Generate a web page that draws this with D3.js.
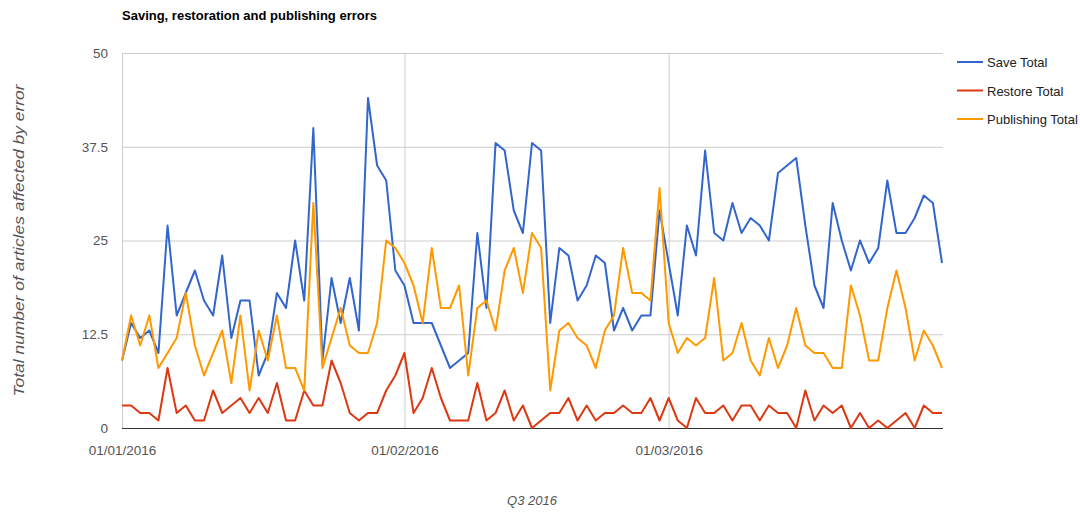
<!DOCTYPE html>
<html>
<head>
<meta charset="utf-8">
<script src="https://cdn.jsdelivr.net/npm/d3@7/dist/d3.min.js"></script>
<style>
  html, body { margin: 0; padding: 0; background: #fff; }
  svg { display: block; font-family: "Liberation Sans", Arial, sans-serif; }
</style>
</head>
<body>
<svg id="chart" width="1080" height="512"></svg>
<script>
// ---- data ----
const startDate = "2016-01-01";
const endDate = "2016-03-31";
const seriesNames = ["Save Total", "Restore Total", "Publishing Total"];
const seriesColors = ["#3366cc", "#dc3912", "#ff9900"];

const saveTotal = [9, 14, 12, 13, 10, 27, 15, 18, 21, 17, 15, 23, 12, 17, 17, 7, 10, 18, 16, 25,
  17, 40, 9, 20, 14, 20, 13, 44, 35, 33, 21, 19, 14, 14, 14, 11, 8, 9, 10, 26,
  16, 38, 37, 29, 26, 38, 37, 14, 24, 23, 17, 19, 23, 22, 13, 16, 13, 15, 15, 29,
  22, 15, 27, 23, 37, 26, 25, 30, 26, 28, 27, 25, 34, 35, 36, 27, 19, 16, 30, 25,
  21, 25, 22, 24, 33, 26, 26, 28, 31, 30, 22];
const restoreTotal = [3, 3, 2, 2, 1, 8, 2, 3, 1, 1, 5, 2, 3, 4, 2, 4, 2, 6, 1, 1,
  5, 3, 3, 9, 6, 2, 1, 2, 2, 5, 7, 10, 2, 4, 8, 4, 1, 1, 1, 6,
  1, 2, 5, 1, 3, 0, 1, 2, 2, 4, 1, 3, 1, 2, 2, 3, 2, 2, 4, 1,
  4, 1, 0, 4, 2, 2, 3, 1, 3, 3, 1, 3, 2, 2, 0, 5, 1, 3, 2, 3,
  0, 2, 0, 1, 0, 1, 2, 0, 3, 2, 2];
const publishingTotal = [9, 15, 11, 15, 8, 10, 12, 18, 11, 7, 10, 13, 6, 15, 5, 13, 9, 15, 8, 8,
  5, 30, 8, 12, 16, 11, 10, 10, 14, 25, 24, 22, 19, 14, 24, 16, 16, 19, 7, 16,
  17, 13, 21, 24, 18, 26, 24, 5, 13, 14, 12, 11, 8, 13, 15, 24, 18, 18, 17, 32,
  14, 10, 12, 11, 12, 20, 9, 10, 14, 9, 7, 12, 8, 11, 16, 11, 10, 10, 8, 8,
  19, 15, 9, 9, 16, 21, 16, 9, 13, 11, 8];

const yTicks = [0, 12.5, 25, 37.5, 50];
const xTickLabels = ["2016-01-01", "2016-02-01", "2016-03-01"];
const chartTitle = "Saving, restoration and publishing errors";
const xTitle = "Q3 2016";
const yTitle = "Total number of articles affected by error";

// ---- layout ----
const parse = d3.timeParse("%Y-%m-%d");
const days = d3.timeDay.range(parse(startDate), d3.timeDay.offset(parse(endDate), 1));
const allSeries = [saveTotal, restoreTotal, publishingTotal];

const L = 122, R = 942, T = 53, B = 428;
const svg = d3.select("#chart");

const x = d3.scaleTime().domain([parse(startDate), parse(endDate)]).range([L, R]);
const y = d3.scaleLinear().domain([0, 50]).range([B, T]);

// y axis + horizontal grid
const yAxis = svg.append("g")
  .attr("transform", `translate(${L},0)`)
  .call(d3.axisLeft(y).tickValues(yTicks).tickSize(-(R - L + 1)).tickPadding(14).tickFormat(d => String(d)));
yAxis.select(".domain").remove();
yAxis.selectAll(".tick line").attr("stroke", "#cccccc").attr("stroke-width", 1);
yAxis.selectAll(".tick text").attr("fill", "#555").attr("font-size", 13.5)
  .attr("font-family", "Liberation Sans, Arial, sans-serif");

// x axis + vertical grid
const xAxis = svg.append("g")
  .attr("transform", `translate(0,${B})`)
  .call(d3.axisBottom(x).tickValues(xTickLabels.map(parse)).tickSize(-(B - T)).tickPadding(17)
    .tickFormat(d3.timeFormat("%d/%m/%Y")));
xAxis.select(".domain").remove();
xAxis.selectAll(".tick line").attr("stroke", "#cccccc").attr("stroke-width", 1);
xAxis.selectAll(".tick text").attr("fill", "#555").attr("font-size", 13.5)
  .attr("font-family", "Liberation Sans, Arial, sans-serif");

// baseline
svg.append("line")
  .attr("x1", L).attr("x2", R + 1).attr("y1", y(0) + 0.5).attr("y2", y(0) + 0.5)
  .attr("stroke", "#333").attr("stroke-width", 1);

// lines
const line = d3.line().x((d, i) => x(days[i])).y(d => y(d));
allSeries.forEach((s, k) => {
  svg.append("path")
    .datum(s)
    .attr("d", line)
    .attr("fill", "none")
    .attr("stroke", seriesColors[k])
    .attr("stroke-width", 2)
    .attr("stroke-linejoin", "round");
});

// title
svg.append("text")
  .attr("x", L).attr("y", 20)
  .attr("font-size", 13).attr("font-weight", "bold").attr("fill", "#000")
  .text(chartTitle);

// axis titles
svg.append("text")
  .attr("x", (L + R) / 2).attr("y", 505)
  .attr("text-anchor", "middle").attr("font-size", 13).attr("font-style", "italic").attr("fill", "#555")
  .text(xTitle);

svg.append("text")
  .attr("transform", `translate(24,${(T + B) / 2}) rotate(-90)`)
  .attr("text-anchor", "middle").attr("font-size", 14).attr("font-style", "italic").attr("fill", "#555")
  .attr("textLength", 312).attr("lengthAdjust", "spacingAndGlyphs")
  .text(yTitle);

// legend
const legend = svg.append("g").attr("transform", "translate(957,62)");
seriesNames.forEach((name, k) => {
  const g = legend.append("g").attr("transform", `translate(0,${k * 28.5})`);
  g.append("line").attr("x1", 0).attr("x2", 26).attr("y1", 0).attr("y2", 0)
    .attr("stroke", seriesColors[k]).attr("stroke-width", 2);
  g.append("text").attr("x", 30).attr("y", 5)
    .attr("font-size", 13).attr("fill", "#222").text(name);
});
</script>
</body>
</html>
